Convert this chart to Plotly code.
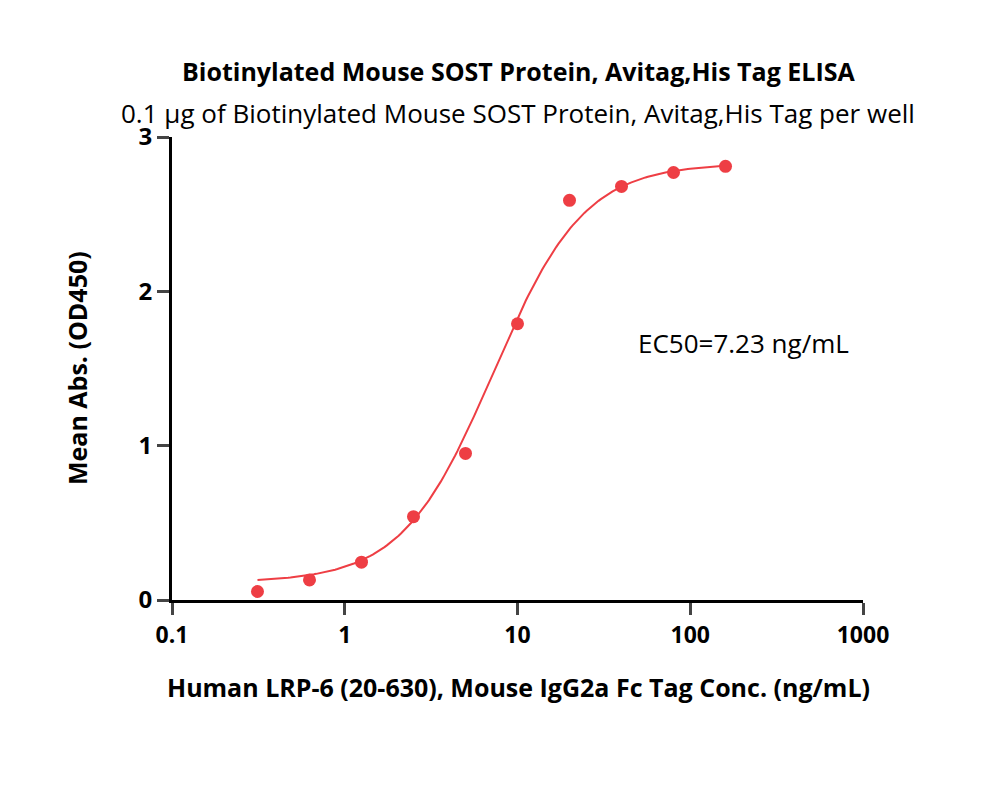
import numpy as np
import plotly.graph_objects as go

# Data
conc = [0.3125, 0.625, 1.25, 2.5, 5, 10, 20, 40, 80, 160]
od450 = [0.055, 0.13, 0.245, 0.54, 0.95, 1.79, 2.59, 2.68, 2.77, 2.81]

# 4PL fit parameters (as drawn)
bottom, top, ec50, hill = 0.115, 2.83, 7.23, 1.65

xc = np.logspace(np.log10(0.3125), np.log10(160), 200)
yc = bottom + (top - bottom) / (1 + (ec50 / xc) ** hill)

red = "#ee3e44"
fig = go.Figure()
fig.add_trace(go.Scatter(x=xc, y=yc, mode="lines", line=dict(color=red, width=2), hoverinfo="skip"))
fig.add_trace(go.Scatter(x=conc, y=od450, mode="markers", marker=dict(color=red, size=13)))

font = "Open Sans, Noto Sans, sans-serif"
# page has an 8px body offset, so margins are reduced accordingly
fig.update_layout(
    width=1000, height=796, showlegend=False,
    plot_bgcolor="white", paper_bgcolor="white",
    margin=dict(l=164, r=145, t=129, b=204),
    font=dict(family=font, color="black"),
)

def pix(px, py):
    return (px - 171) / (862 - 171), (600 - py) / (600 - 137)

for text, (px, py), size in [
    ("<b>Biotinylated Mouse SOST Protein, Avitag,His Tag ELISA</b>", (517, 52), 25),
    ("0.1 μg of Biotinylated Mouse SOST Protein, Avitag,His Tag per well", (517, 93), 26),
    ("EC50=7.23 ng/mL", (850, 343), 26),
    ("<b>Human LRP-6 (20-630), Mouse IgG2a Fc Tag Conc. (ng/mL)</b>", (517, 706), 25),
]:
    x, y = pix(px, py)
    fig.add_annotation(text=text, x=x, y=y, xref="paper", yref="paper", showarrow=False, font=dict(size=size))
x, y = pix(57, 368)
fig.add_annotation(text="<b>Mean Abs. (OD450)</b>", x=x, y=y, xref="paper", yref="paper",
                   showarrow=False, textangle=-90, font=dict(size=25))

fig.update_xaxes(type="log", range=[-1, 3], tickvals=[0.1, 1, 10, 100, 1000],
                 ticktext=["0.1", "1", "10", "100", "1000"], showgrid=False, zeroline=False,
                 showline=True, linecolor="black", linewidth=3, ticks="outside", ticklen=12,
                 tickwidth=3, tickfont=dict(size=23, family=font, weight="bold"))
fig.update_yaxes(range=[0, 3], tickvals=[0, 1, 2, 3], showgrid=False, zeroline=False,
                 showline=True, linecolor="black", linewidth=3, ticks="outside", ticklen=12,
                 tickwidth=3, tickfont=dict(size=24, family=font, weight="bold"))

fig.write_html("out.html")
